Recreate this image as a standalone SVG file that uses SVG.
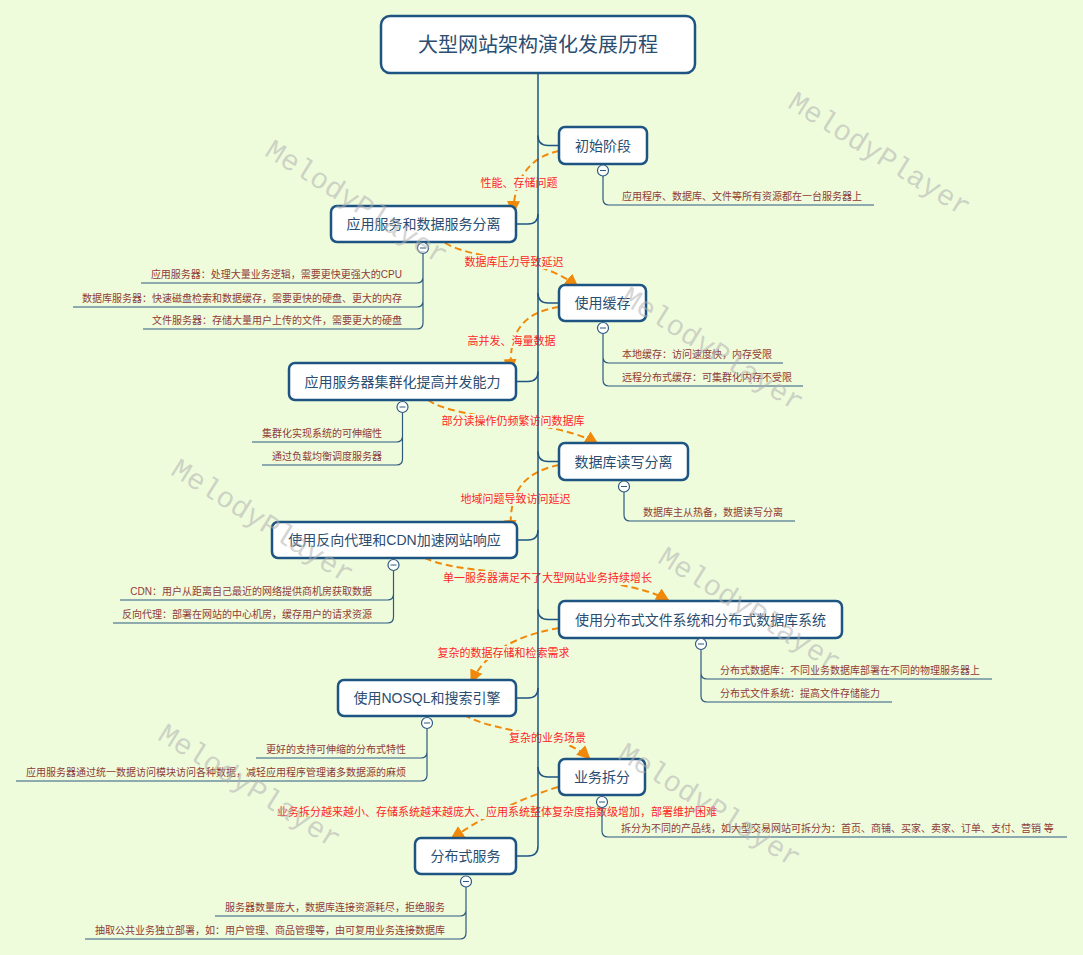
<svg xmlns="http://www.w3.org/2000/svg" width="1083" height="955" viewBox="0 0 1083 955">
<style>
.bg{fill:#effcdc}
.box{fill:#ffffff;stroke:#1e5482;stroke-width:2.5}
.nt{font-family:"Liberation Sans","Noto Sans CJK SC",sans-serif;font-size:14px;fill:#2a4d70;text-anchor:middle}
.root{font-size:20px}
.trunk{fill:none;stroke:#1e5482;stroke-width:1.5}
.tree{fill:none;stroke:#2c5a80;stroke-width:1.2}
.dot{fill:#ffffff;stroke:#2c5a80;stroke-width:1.2}
.minus{stroke:#2c5a80;stroke-width:1}
.dt{font-family:"Liberation Sans","Noto Sans CJK SC",sans-serif;font-size:10px;fill:#8e3b36}
.dl{text-anchor:end}
.arr{fill:none;stroke:#f0890a;stroke-width:2;stroke-dasharray:7 4;marker-end:url(#ah)}
.lb{fill:#effcdc}
.lt{font-family:"Liberation Sans","Noto Sans CJK SC",sans-serif;font-size:11px;fill:#ff2424;text-anchor:middle}
.wm{font-family:"Liberation Mono",monospace;font-size:29px;fill:#b0b0b0;fill-opacity:0.55;text-anchor:middle}
</style>
<defs>
<marker id="ah" markerUnits="userSpaceOnUse" markerWidth="15" markerHeight="15" refX="13" refY="7.5" orient="auto">
<path d="M0,1 L14,7.5 L0,14 z" fill="#f0890a"/>
</marker>
</defs>
<rect class="bg" x="0" y="0" width="1083" height="955"/>

<g id="arrows">
<path class="arr" d="M559,151 Q515,160 513,214"/>
<path class="arr" d="M445,243 C478,262 540,255 578,287"/>
<path class="arr" d="M559,307 C525,312 508,330 511,372"/>
<path class="arr" d="M428,400 C455,420 560,420 598,444"/>
<path class="arr" d="M559,465 C525,472 508,490 511,533"/>
<path class="arr" d="M425,558 C470,580 620,570 669,601"/>
<path class="arr" d="M559,628 Q490,640 471,683"/>
<path class="arr" d="M464,715 C500,735 560,730 590,759"/>
<path class="arr" d="M558,787 Q500,805 451,839"/>
</g>

<g id="arrow-labels">
<rect class="lb" x="479" y="176" width="80" height="14"/>
<text class="lt" x="519" y="187">性能、存储问题</text>
<rect class="lb" x="463" y="255" width="103" height="14"/>
<text class="lt" x="514" y="266">数据库压力导致延迟</text>
<rect class="lb" x="466" y="334" width="92" height="14"/>
<text class="lt" x="511.5" y="345">高并发、海量数据</text>
<rect class="lb" x="440" y="414" width="147" height="14"/>
<text class="lt" x="513" y="425">部分读操作仍频繁访问数据库</text>
<rect class="lb" x="459" y="492" width="114" height="14"/>
<text class="lt" x="515.5" y="503">地域问题导致访问延迟</text>
<rect class="lb" x="441" y="571" width="213" height="14"/>
<text class="lt" x="547.5" y="582">单一服务器满足不了大型网站业务持续增长</text>
<rect class="lb" x="436" y="646" width="136" height="14"/>
<text class="lt" x="503.5" y="657">复杂的数据存储和检索需求</text>
<rect class="lb" x="507" y="731" width="81" height="14"/>
<text class="lt" x="547.5" y="742">复杂的业务场景</text>
<rect class="lb" x="276" y="805" width="443" height="14"/>
<text class="lt" x="497" y="816">业务拆分越来越小、存储系统越来越庞大、应用系统整体复杂度指数级增加，部署维护困难</text>
</g>

<g id="connectors">
<path class="trunk" d="M538,73 V846"/>
<path class="trunk" d="M538,135.5 Q538,145.5 548,145.5 H559"/>
<path class="trunk" d="M516,224 H528 Q538,224 538,214"/>
<path class="trunk" d="M538,293 Q538,303 548,303 H559"/>
<path class="trunk" d="M516,381.5 H528 Q538,381.5 538,371.5"/>
<path class="trunk" d="M538,451.5 Q538,461.5 548,461.5 H559"/>
<path class="trunk" d="M517,540 H528 Q538,540 538,530"/>
<path class="trunk" d="M538,609.5 Q538,619.5 548,619.5 H559"/>
<path class="trunk" d="M516,698 H528 Q538,698 538,688"/>
<path class="trunk" d="M538,767 Q538,777 548,777 H559"/>
<path class="trunk" d="M516,856 H528 Q538,856 538,846"/>
</g>

<g id="root">
<rect class="box" x="381" y="16" width="314" height="57" rx="9"/>
<text class="nt root" x="538" y="52">大型网站架构演化发展历程</text>
</g>

<g id="n1">
<rect class="box" x="559" y="127" width="88" height="37" rx="6"/>
<text class="nt" x="603" y="150.5">初始阶段</text>
<path class="tree" d="M603,176 V199 Q603,205 609,205 H874"/>
<circle class="dot" cx="603" cy="170.5" r="5.5"/><line class="minus" x1="600" y1="170.5" x2="606" y2="170.5"/>
<text class="dt" x="622" y="200">应用程序、数据库、文件等所有资源都在一台服务器上</text>
</g>

<g id="n2">
<rect class="box" x="331" y="206" width="185" height="36" rx="6"/>
<text class="nt" x="423.5" y="229">应用服务和数据服务分离</text>
<path class="tree" d="M423,253.5 V323 Q423,329 417,329 H143 M423,277 Q423,283 417,283 H141 M423,301 Q423,307 417,307 H73"/>
<circle class="dot" cx="423" cy="248" r="5.5"/><line class="minus" x1="420" y1="248" x2="426" y2="248"/>
<text class="dt dl" x="402" y="278">应用服务器：处理大量业务逻辑，需要更快更强大的CPU</text>
<text class="dt dl" x="402" y="302">数据库服务器：快速磁盘检索和数据缓存，需要更快的硬盘、更大的内存</text>
<text class="dt dl" x="402" y="324">文件服务器：存储大量用户上传的文件，需要更大的硬盘</text>
</g>

<g id="n3">
<rect class="box" x="559" y="285" width="87" height="36" rx="6"/>
<text class="nt" x="602.5" y="308">使用缓存</text>
<path class="tree" d="M603,333.5 V380 Q603,386 609,386 H803 M603,357 Q603,363 609,363 H783"/>
<circle class="dot" cx="603" cy="328" r="5.5"/><line class="minus" x1="600" y1="328" x2="606" y2="328"/>
<text class="dt" x="622" y="358">本地缓存：访问速度快，内存受限</text>
<text class="dt" x="622" y="381">远程分布式缓存：可集群化内存不受限</text>
</g>

<g id="n4">
<rect class="box" x="289" y="363" width="227" height="37" rx="6"/>
<text class="nt" x="402.5" y="386.5" textLength="196">应用服务器集群化提高并发能力</text>
<path class="tree" d="M402.5,412.5 V459 Q402.5,465 396.5,465 H262 M402.5,436 Q402.5,442 396.5,442 H252"/>
<circle class="dot" cx="402.5" cy="407" r="5.5"/><line class="minus" x1="399.5" y1="407" x2="405.5" y2="407"/>
<text class="dt dl" x="382" y="437">集群化实现系统的可伸缩性</text>
<text class="dt dl" x="382" y="460">通过负载均衡调度服务器</text>
</g>

<g id="n5">
<rect class="box" x="559" y="443" width="129" height="37" rx="6"/>
<text class="nt" x="623.5" y="466.5">数据库读写分离</text>
<path class="tree" d="M624,492 V515 Q624,521 630,521 H795"/>
<circle class="dot" cx="624" cy="486.5" r="5.5"/><line class="minus" x1="621" y1="486.5" x2="627" y2="486.5"/>
<text class="dt" x="643" y="516">数据库主从热备，数据读写分离</text>
</g>

<g id="n6">
<rect class="box" x="272" y="522" width="245" height="36" rx="6"/>
<text class="nt" x="394.5" y="545">使用反向代理和CDN加速网站响应</text>
<path class="tree" d="M393.5,570.5 V617 Q393.5,623 387.5,623 H113 M393.5,594 Q393.5,600 387.5,600 H120"/>
<circle class="dot" cx="393.5" cy="565" r="5.5"/><line class="minus" x1="390.5" y1="565" x2="396.5" y2="565"/>
<text class="dt dl" x="372" y="595">CDN：用户从距离自己最近的网络提供商机房获取数据</text>
<text class="dt dl" x="372" y="618">反向代理：部署在网站的中心机房，缓存用户的请求资源</text>
</g>

<g id="n7">
<rect class="box" x="559" y="601" width="283" height="37" rx="6"/>
<text class="nt" x="700.5" y="624.5" textLength="251">使用分布式文件系统和分布式数据库系统</text>
<path class="tree" d="M701,649.5 V696 Q701,702 707,702 H892 M701,673 Q701,679 707,679 H992"/>
<circle class="dot" cx="701" cy="644" r="5.5"/><line class="minus" x1="698" y1="644" x2="704" y2="644"/>
<text class="dt" x="720" y="674">分布式数据库：不同业务数据库部署在不同的物理服务器上</text>
<text class="dt" x="720" y="697">分布式文件系统：提高文件存储能力</text>
</g>

<g id="n8">
<rect class="box" x="338" y="680" width="178" height="36" rx="6"/>
<text class="nt" x="427" y="703">使用NOSQL和搜索引擎</text>
<path class="tree" d="M427,728.5 V775 Q427,781 421,781 H16 M427,752 Q427,758 421,758 H256"/>
<circle class="dot" cx="427" cy="723" r="5.5"/><line class="minus" x1="424" y1="723" x2="430" y2="723"/>
<text class="dt dl" x="406" y="753">更好的支持可伸缩的分布式特性</text>
<text class="dt dl" x="406" y="776">应用服务器通过统一数据访问模块访问各种数据，减轻应用程序管理诸多数据源的麻烦</text>
</g>

<g id="n9">
<rect class="box" x="559" y="759" width="86" height="36" rx="6"/>
<text class="nt" x="602" y="782">业务拆分</text>
<path class="tree" d="M602,807.5 V831 Q602,837 608,837 H1067"/>
<circle class="dot" cx="602" cy="802" r="5.5"/><line class="minus" x1="599" y1="802" x2="605" y2="802"/>
<text class="dt" x="621" y="832">拆分为不同的产品线，如大型交易网站可拆分为：首页、商铺、买家、卖家、订单、支付、营销 等</text>
</g>

<g id="n10">
<rect class="box" x="415" y="838" width="101" height="36" rx="6"/>
<text class="nt" x="465.5" y="861">分布式服务</text>
<path class="tree" d="M466,887 V933 Q466,939 460,939 H85 M466,910 Q466,916 460,916 H215"/>
<circle class="dot" cx="466" cy="881.5" r="5.5"/><line class="minus" x1="463" y1="881.5" x2="469" y2="881.5"/>
<text class="dt dl" x="445" y="911">服务器数量庞大，数据库连接资源耗尽，拒绝服务</text>
<text class="dt dl" x="445" y="934">抽取公共业务独立部署，如：用户管理、商品管理等，由可复用业务连接数据库</text>
</g>

<g id="watermarks">
<text class="wm" transform="translate(352,210) rotate(32)">MelodyPlayer</text>
<text class="wm" transform="translate(875,162) rotate(32)">MelodyPlayer</text>
<text class="wm" transform="translate(708,357) rotate(32)">MelodyPlayer</text>
<text class="wm" transform="translate(258,529) rotate(32)">MelodyPlayer</text>
<text class="wm" transform="translate(745,617) rotate(32)">MelodyPlayer</text>
<text class="wm" transform="translate(245,794) rotate(32)">MelodyPlayer</text>
<text class="wm" transform="translate(705,813) rotate(32)">MelodyPlayer</text>
</g>
</svg>
